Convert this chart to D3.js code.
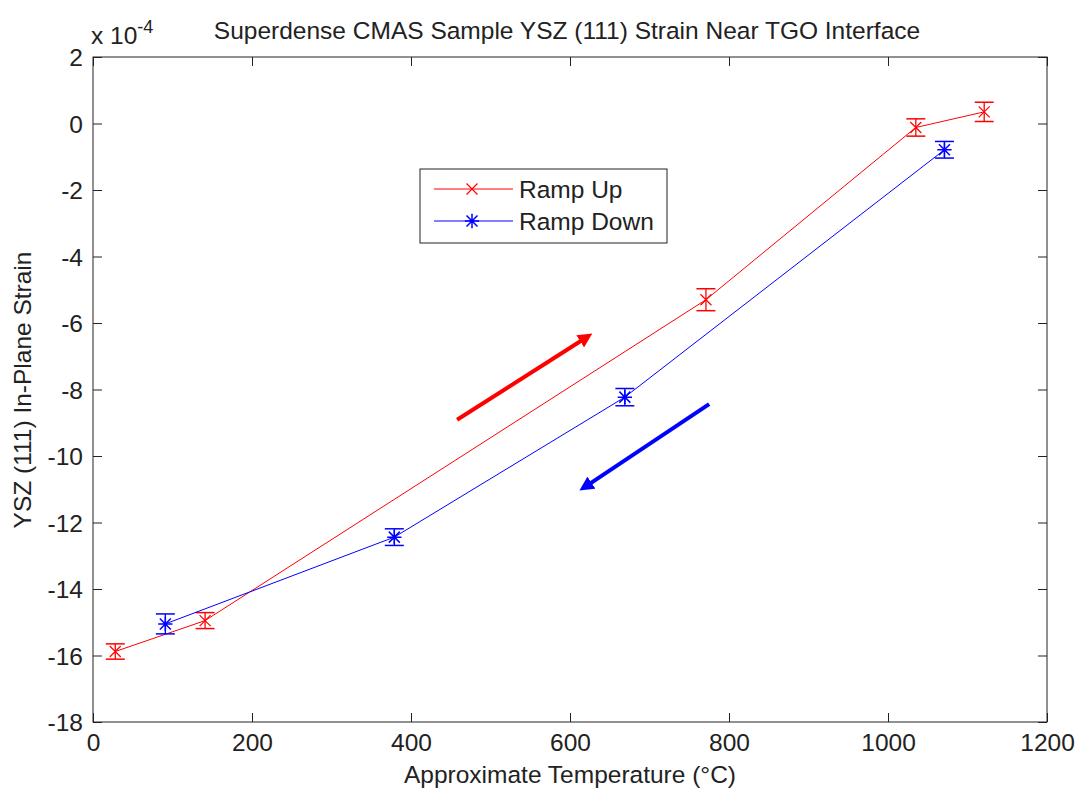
<!DOCTYPE html>
<html><head><meta charset="utf-8">
<script src="https://cdn.jsdelivr.net/npm/d3@7"></script>
<style>body{margin:0;background:#fff}svg{display:block}text{font-family:"Liberation Sans",Arial,sans-serif;fill:#222}</style>
</head><body><svg id="c" width="1078" height="790"></svg>
<script>
const title = "Superdense CMAS Sample YSZ (111) Strain Near TGO Interface";
const xLabel = "Approximate Temperature (°C)";
const yLabel = "YSZ (111) In-Plane Strain";
const seriesNames = ["Ramp Up", "Ramp Down"];
const xTicks = [0, 200, 400, 600, 800, 1000, 1200];
const yTicks = [-18, -16, -14, -12, -10, -8, -6, -4, -2, 0, 2];
// strain values in units of 1e-4
const rampUpTemp = [28, 141, 771, 1035, 1121];
const rampUpStrain = [-15.88, -14.95, -5.30, -0.12, 0.35];
const rampUpErr = [0.23, 0.24, 0.33, 0.26, 0.29];
const rampDownTemp = [91, 379, 669, 1071];
const rampDownStrain = [-15.05, -12.44, -8.23, -0.79];
const rampDownErr = [0.30, 0.25, 0.26, 0.25];
// annotation arrows [x0,y0,x1,y1] in data units
const upArrow = [458, -8.91, 630, -6.29];
const downArrow = [775, -8.44, 610, -11.07];

const svg = d3.select("#c");
const L = 93, T = 57, R = 1047, B = 722;
const x = d3.scaleLinear().domain([0, 1200]).range([L, R]);
const y = d3.scaleLinear().domain([-18, 2]).range([B, T]);
const fs = 24.5;
const tk = 9;
const FF = '"Liberation Sans",Arial,sans-serif';

// axes box
svg.append("rect").attr("x", L).attr("y", T).attr("width", R - L).attr("height", B - T)
  .attr("fill", "none").attr("stroke", "#222").attr("stroke-width", 1);

const gx = svg.append("g").attr("transform", `translate(0,${B})`)
  .call(d3.axisBottom(x).tickValues(xTicks).tickSize(-tk).tickFormat(d3.format("d")));
const gxt = svg.append("g").attr("transform", `translate(0,${T})`)
  .call(d3.axisTop(x).tickValues(xTicks).tickSize(-tk).tickFormat(""));
const gy = svg.append("g").attr("transform", `translate(${L},0)`)
  .call(d3.axisLeft(y).tickValues(yTicks).tickSize(-tk).tickPadding(10).tickFormat(d => d));
const gyr = svg.append("g").attr("transform", `translate(${R},0)`)
  .call(d3.axisRight(y).tickValues(yTicks).tickSize(-tk).tickFormat(""));
[gx, gxt, gy, gyr].forEach(g => {
  g.select(".domain").remove();
  g.selectAll("line").attr("stroke", "#222");
  g.selectAll("text").attr("font-size", fs).attr("fill", "#222").attr("font-family", FF);
});
gx.selectAll("text").attr("y", 29).attr("dy", 0);
gy.selectAll("text").attr("dy", "0.36em");

// titles
svg.append("text").attr("x", 567).attr("y", 39).attr("text-anchor", "middle").attr("font-size", fs).text(title);
svg.append("text").attr("x", 570).attr("y", 783).attr("text-anchor", "middle").attr("font-size", fs).text(xLabel);
svg.append("text").attr("transform", "translate(31,390) rotate(-90)").attr("text-anchor", "middle").attr("font-size", fs).text(yLabel);
const ex = svg.append("text").attr("x", 91).attr("y", 44).attr("font-size", fs);
ex.append("tspan").text("x 10");
ex.append("tspan").attr("dy", -11).attr("font-size", 18).text("-4");

function series(tx, ys, errs, color, marker) {
  const g = svg.append("g");
  const pts = tx.map((t, i) => ({t, s: ys[i], e: errs[i]}));
  g.append("path").datum(pts).attr("fill", "none").attr("stroke", color).attr("stroke-width", 1)
    .attr("d", d3.line().x(d => x(d.t)).y(d => y(d.s)));
  const cw = 9.5;
  pts.forEach(d => {
    const cx = x(d.t), y1 = y(d.s + d.e), y2 = y(d.s - d.e);
    g.append("line").attr("x1", cx).attr("x2", cx).attr("y1", y1).attr("y2", y2).attr("stroke", color).attr("stroke-width", 1.3);
    g.append("line").attr("x1", cx - cw).attr("x2", cx + cw).attr("y1", y1).attr("y2", y1).attr("stroke", color).attr("stroke-width", 1.5);
    g.append("line").attr("x1", cx - cw).attr("x2", cx + cw).attr("y1", y2).attr("y2", y2).attr("stroke", color).attr("stroke-width", 1.5);
    drawMarker(g, cx, y(d.s), color, marker);
  });
}
function drawMarker(g, cx, cy, color, marker) {
  const m = 5.5;
  const p = d3.path();
  p.moveTo(cx - m, cy - m); p.lineTo(cx + m, cy + m);
  p.moveTo(cx - m, cy + m); p.lineTo(cx + m, cy - m);
  if (marker === "*") {
    p.moveTo(cx - m * 1.3, cy); p.lineTo(cx + m * 1.3, cy);
    p.moveTo(cx, cy - m * 1.3); p.lineTo(cx, cy + m * 1.3);
  }
  g.append("path").attr("d", p.toString()).attr("stroke", color).attr("stroke-width", marker === "*" ? 1.5 : 1.2).attr("fill", "none");
}
series(rampUpTemp, rampUpStrain, rampUpErr, "#ff0000", "x");
series(rampDownTemp, rampDownStrain, rampDownErr, "#0000ff", "*");

// arrows
const defs = svg.append("defs");
[["ar", "#ff0000"], ["ab", "#0000ff"]].forEach(([id, c]) => {
  defs.append("marker").attr("id", id).attr("viewBox", "0 0 10 10").attr("refX", 5).attr("refY", 5)
    .attr("markerWidth", 3.6).attr("markerHeight", 3.6).attr("orient", "auto").attr("markerUnits", "strokeWidth")
    .append("path").attr("d", "M0,0 L10,5 L0,10 z").attr("fill", c);
});
function arrow(a, c, id) {
  const x0 = x(a[0]), y0 = y(a[1]), x1 = x(a[2]), y1 = y(a[3]);
  const len = Math.hypot(x1 - x0, y1 - y0);
  const ux = (x1 - x0) / len, uy = (y1 - y0) / len;
  svg.append("line").attr("x1", x0).attr("y1", y0).attr("x2", x1 - ux * 9).attr("y2", y1 - uy * 9)
    .attr("stroke", c).attr("stroke-width", 4).attr("marker-end", `url(#${id})`);
}
arrow(upArrow, "#ff0000", "ar");
arrow(downArrow, "#0000ff", "ab");

// legend
const lg = svg.append("g");
lg.append("rect").attr("x", 420).attr("y", 169).attr("width", 247).attr("height", 74)
  .attr("fill", "#fff").attr("stroke", "#222").attr("stroke-width", 1);
[["#ff0000", "x"], ["#0000ff", "*"]].forEach(([c, m], i) => {
  const yy = 189 + i * 32;
  lg.append("line").attr("x1", 434).attr("x2", 513).attr("y1", yy).attr("y2", yy).attr("stroke", c).attr("stroke-width", 1);
  drawMarker(lg, 472, yy, c, m);
  lg.append("text").attr("x", 519).attr("y", yy).attr("dy", "0.36em").attr("font-size", fs).text(seriesNames[i]);
});
</script></body></html>
